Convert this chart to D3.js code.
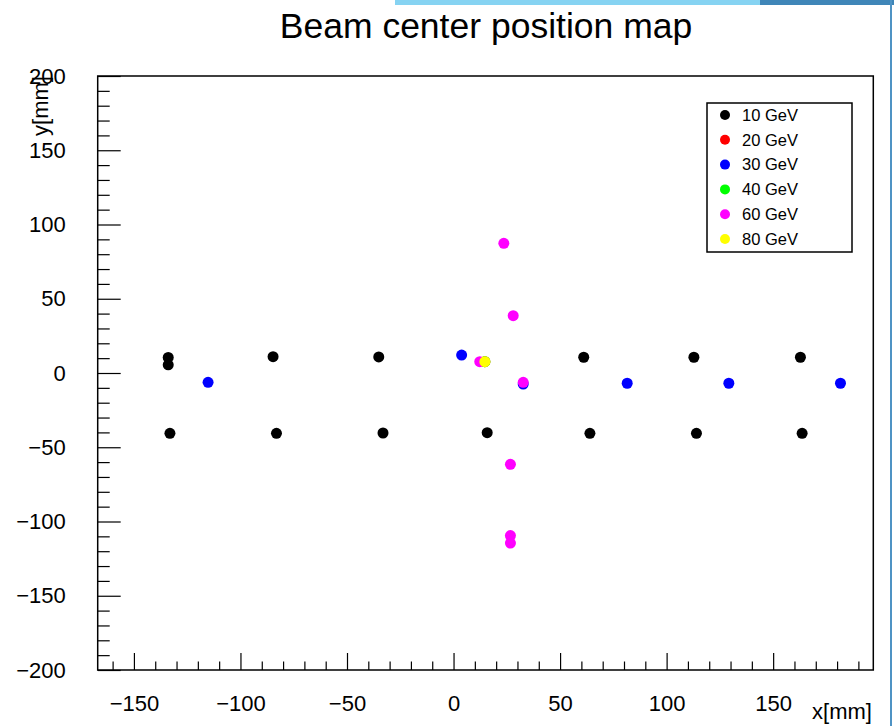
<!DOCTYPE html>
<html lang="en">
<head>
  <meta charset="UTF-8">
  <title>Beam center position map</title>
  <script src="https://d3js.org/d3.v7.min.js"></script>
  <style>
    body { margin: 0; background: #fff; }
    text { font-family: "Liberation Sans", Arial, sans-serif; fill: #000; }
  </style>
</head>
<body>
  <div id="chart"></div>

  <script>
    // beam energies and their marker colours
    const energies = ["10 GeV", "20 GeV", "30 GeV", "40 GeV", "60 GeV", "80 GeV"];
    const colors = ["#000000", "#ff0000", "#0000ff", "#00ff00", "#ff00ff", "#ffff00"];

    // measured beam centers [x, y] in mm, one list per energy
    const pts10 = [
      [-133.9, 10.5], [-133.9, 5.5], [-84.7, 11.0], [-35.1, 10.8], [61.1, 10.6], [112.8, 10.6], [162.8, 10.6],
      [-133.1, -40.6], [-83.1, -40.6], [-33.1, -40.4], [15.8, -40.2], [64.0, -40.6], [114.0, -40.6], [163.6, -40.6]
    ];
    const pts20 = [[14.7, 7.6]];
    const pts30 = [[-115.2, -6.3], [3.8, 12.1], [32.7, -7.4], [81.5, -6.9], [129.2, -6.9], [181.6, -6.9]];
    const pts40 = [[14.7, 7.6]];
    const pts60 = [[23.6, 87.3], [28.0, 38.6], [12.3, 7.6], [32.7, -6.3], [26.7, -61.5], [26.7, -109.5], [26.7, -114.5]];
    const pts80 = [[14.7, 7.6]];
    const allPts = [pts10, pts20, pts30, pts40, pts60, pts80];

    const xMajor = [-150, -100, -50, 0, 50, 100, 150];
    const yMajor = [-200, -150, -100, -50, 0, 50, 100, 150, 200];

    const W = 894, H = 726;
    const svg = d3.select("#chart").append("svg")
      .attr("width", W).attr("height", H);

    // screenshot window decoration
    svg.append("rect").attr("x", 395).attr("y", 0).attr("width", 365).attr("height", 5).attr("fill", "#86d3f2");
    svg.append("rect").attr("x", 760).attr("y", 0).attr("width", 134).attr("height", 5).attr("fill", "#3f86b8");
    svg.append("rect").attr("x", 890).attr("y", 0).attr("width", 2).attr("height", H).attr("fill", "#4f93c4");

    const x = d3.scaleLinear().domain([-167, 197]).range([97.7, 873.3]);
    const y = d3.scaleLinear().domain([-200, 200]).range([670, 76]);

    const fmt = d3.format("");

    // x axis: major + minor ticks pointing inside
    const xMinor = d3.range(-160, 197, 10).filter(v => v % 50 !== 0);
    svg.append("g")
      .attr("transform", "translate(0,670)")
      .call(d3.axisBottom(x).tickValues(xMinor).tickSize(-8.5).tickFormat(""))
      .call(g => g.select(".domain").remove());
    svg.append("g")
      .attr("class", "x-axis")
      .attr("transform", "translate(0,670)")
      .call(d3.axisBottom(x).tickValues(xMajor).tickSize(-17).tickPadding(25).tickFormat(fmt))
      .call(g => g.select(".domain").remove())
      .call(g => g.selectAll("text").attr("font-size", 22).attr("fill", "#000"));

    // y axis
    const yMinor = d3.range(-190, 200, 10).filter(v => v % 50 !== 0);
    svg.append("g")
      .attr("transform", "translate(97.7,0)")
      .call(d3.axisLeft(y).tickValues(yMinor).tickSize(-12).tickFormat(""))
      .call(g => g.select(".domain").remove());
    svg.append("g")
      .attr("class", "y-axis")
      .attr("transform", "translate(97.7,0)")
      .call(d3.axisLeft(y).tickValues(yMajor).tickSize(-23).tickPadding(32).tickFormat(fmt))
      .call(g => g.select(".domain").remove())
      .call(g => g.selectAll("text").attr("font-size", 22).attr("fill", "#000"));

    svg.selectAll(".tick line").attr("stroke", "#000").attr("stroke-width", 1.2);

    // frame
    svg.append("rect")
      .attr("x", x.range()[0]).attr("y", y.range()[1])
      .attr("width", x.range()[1] - x.range()[0])
      .attr("height", y.range()[0] - y.range()[1])
      .attr("fill", "none").attr("stroke", "#000").attr("stroke-width", 1.5);

    // points
    allPts.forEach((pts, i) => {
      svg.append("g").selectAll("circle")
        .data(pts)
        .enter()
        .append("circle")
        .attr("cx", d => x(d[0]))
        .attr("cy", d => y(d[1]))
        .attr("r", 5.5)
        .attr("fill", colors[i]);
    });

    // title
    svg.append("text")
      .attr("x", 486).attr("y", 38)
      .attr("text-anchor", "middle")
      .attr("font-size", 35.5)
      .text("Beam center position map");

    // axis titles
    svg.append("text")
      .attr("x", 872).attr("y", 719)
      .attr("text-anchor", "end")
      .attr("font-size", 22)
      .text("x[mm]");
    svg.append("text")
      .attr("transform", "translate(48,76) rotate(-90)")
      .attr("text-anchor", "end")
      .attr("font-size", 22)
      .text("y[mm]");

    // legend
    const lg = svg.append("g");
    lg.append("rect")
      .attr("x", 707).attr("y", 103).attr("width", 145).attr("height", 149)
      .attr("fill", "#fff").attr("stroke", "#000").attr("stroke-width", 1.5);
    energies.forEach((e, i) => {
      const ly = 115 + i * 24.8;
      lg.append("circle").attr("cx", 725).attr("cy", ly).attr("r", 5).attr("fill", colors[i]);
      lg.append("text")
        .attr("x", 742).attr("y", ly)
        .attr("dy", "0.35em")
        .attr("font-size", 16.5)
        .text(e);
    });
  </script>
</body>
</html>
